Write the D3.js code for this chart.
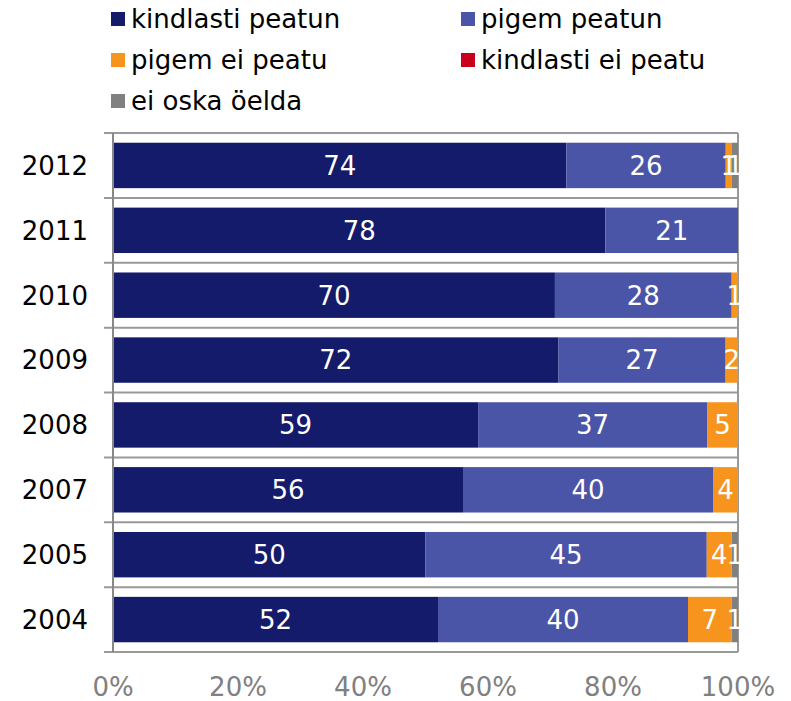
<!DOCTYPE html>
<html><head><meta charset="utf-8">
<script src="https://cdn.jsdelivr.net/npm/d3@7"></script>
<style>body{margin:0;background:#fff;}text{font-family:"DejaVu Sans",Verdana,sans-serif;}</style>
</head><body>
<svg id="c" width="791" height="701"></svg>
<script>
const years = ["2012","2011","2010","2009","2008","2007","2005","2004"];
const seriesNames = ["kindlasti peatun","pigem peatun","pigem ei peatu","kindlasti ei peatu","ei oska öelda"];
const colors = ["#141b6b","#4a55a8","#f7941d","#c8001e","#808080"];
const kindlastiPeatun = [74,78,70,72,59,56,50,52];
const pigemPeatun     = [26,21,28,27,37,40,45,40];
const pigemEiPeatu    = [1,0,1,2,5,4,4,7];
const kindlastiEiPeatu= [0,0,0,0,0,0,0,0];
const eiOskaOelda     = [1,0,0,0,0,0,1,1];
const xTicks = [0,0.2,0.4,0.6,0.8,1];

const seriesVals = [kindlastiPeatun,pigemPeatun,pigemEiPeatu,kindlastiEiPeatu,eiOskaOelda];
const rows = years.map((y,i)=>{const r={year:y}; seriesNames.forEach((s,j)=>r[s]=seriesVals[j][i]); return r;});
const stacked = d3.stack().keys(seriesNames).offset(d3.stackOffsetExpand)(rows);

const svg = d3.select("#c");
const L=113,R=738,T=133,B=652;
const FS=26;
const x = d3.scaleLinear().domain([0,1]).range([L,R]);
const y = d3.scaleBand().domain(years).range([T,B]).paddingInner(0.3).paddingOuter(0.15);
const band = d3.scaleBand().domain(years).range([T,B]);

// gridlines at category boundaries
const bounds = years.map(d=>band(d)).concat([B]);
svg.append("g").selectAll("line").data(bounds).join("line")
  .attr("x1",104).attr("x2",R).attr("y1",d=>d).attr("y2",d=>d)
  .attr("stroke","#999").attr("stroke-width",2);
// right border
svg.append("line").attr("x1",R).attr("x2",R).attr("y1",T).attr("y2",B).attr("stroke","#999").attr("stroke-width",2);

// bars
const g = svg.append("g");
stacked.forEach((s,j)=>{
  g.append("g").attr("fill",colors[j]).selectAll("rect").data(s).join("rect")
    .attr("x",d=>x(d[0])).attr("width",d=>x(d[1])-x(d[0]))
    .attr("y",d=>y(d.data.year)).attr("height",y.bandwidth());
});
// labels
stacked.forEach((s,j)=>{
  g.append("g").selectAll("text").data(s.filter(d=>d.data[s.key]>0)).join("text")
    .attr("x",d=>(x(d[0])+x(d[1]))/2).attr("y",d=>y(d.data.year)+y.bandwidth()/2)
    .attr("dy","0.36em").attr("text-anchor","middle").attr("fill","#fff")
    .attr("font-size",FS).text(d=>d.data[s.key]);
});

// left axis
svg.append("line").attr("x1",L).attr("x2",L).attr("y1",T).attr("y2",B).attr("stroke","#888").attr("stroke-width",2);
svg.append("g").selectAll("text").data(years).join("text")
  .attr("x",88).attr("y",d=>band(d)+band.bandwidth()/2).attr("dy","0.36em")
  .attr("text-anchor","end").attr("font-size",FS).attr("fill","#000").text(d=>d);

// bottom axis labels
svg.append("g").selectAll("text").data(xTicks).join("text")
  .attr("x",d=>x(d)).attr("y",696).attr("text-anchor","middle")
  .attr("font-size",FS).attr("fill","#808080").text(d=>d3.format(".0%")(d));

// legend
const leg = svg.append("g");
const pos = [[111,19],[461,19],[111,60],[461,60],[111,101]];
seriesNames.forEach((s,j)=>{
  const [lx,ly]=pos[j];
  leg.append("rect").attr("x",lx).attr("y",ly-7).attr("width",14).attr("height",14).attr("fill",colors[j]);
  leg.append("text").attr("x",lx+20).attr("y",ly+9).attr("font-size",FS).attr("fill","#000").text(s);
});
</script>
</body></html>
